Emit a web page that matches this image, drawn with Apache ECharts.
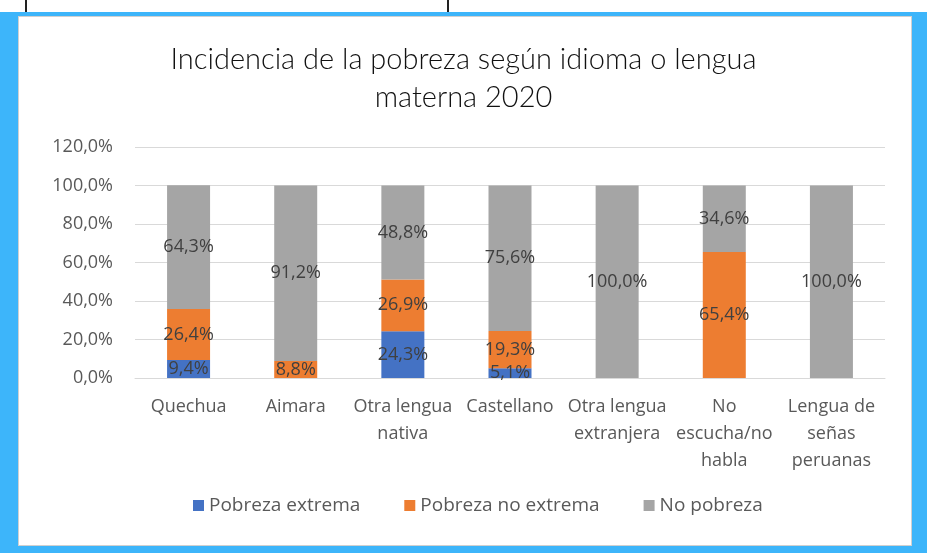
<!DOCTYPE html>
<html>
<head>
<meta charset="utf-8">
<script src="https://cdn.jsdelivr.net/npm/echarts@6/dist/echarts.min.js"></script>
<style>
  html, body { margin: 0; padding: 0; }
  body { width: 927px; height: 553px; position: relative; background: #3db5fa; overflow: hidden; }
  #top { position: absolute; left: 0; top: 0; width: 927px; height: 12px; background: #fff; }
  .tick { position: absolute; top: 0; width: 2px; height: 12px; background: #222; }
  #frame { position: absolute; left: 18px; top: 16px; width: 894px; height: 530px; background: #fff; border: 1px solid #d0d0d0; box-sizing: border-box; }
  #main { position: absolute; left: 0; top: 0; width: 927px; height: 553px; }
</style>
</head>
<body>
<div id="top"><div class="tick" style="left:25px"></div><div class="tick" style="left:447px"></div></div>
<div id="frame"></div>
<div id="main"></div>
<script>
const categories = ['Quechua', 'Aimara', 'Otra lengua\nnativa', 'Castellano', 'Otra lengua\nextranjera', 'No\nescucha/no\nhabla', 'Lengua de\nseñas\nperuanas'];
const pobrezaExtrema = [9.4, 0, 24.3, 5.1, 0, 0, 0];
const pobrezaNoExtrema = [26.4, 8.8, 26.9, 19.3, 0, 65.4, 0];
const noPobreza = [64.3, 91.2, 48.8, 75.6, 100, 34.6, 100];

const chart = echarts.init(document.getElementById('main'));

const pct = v => v.toFixed(1).replace('.', ',') + '%';

function makeSeries(name, data, color) {
  return {
    name,
    type: 'bar',
    stack: 'total',
    barWidth: 43,
    itemStyle: { color },
    label: {
      show: true,
      position: 'inside',
      color: '#404040',
      fontSize: 18,
      fontFamily: 'Open Sans',
      formatter: p => (p.value > 0 ? pct(p.value) : ''),
    },
    data,
  };
}

chart.setOption({
  animation: false,
  title: {
    text: 'Incidencia de la pobreza según idioma o lengua\nmaterna 2020',
    left: 'center',
    top: 36,
    textStyle: { fontFamily: 'Lato', fontWeight: 300, fontSize: 29, color: '#111', lineHeight: 38 },
  },
  legend: {
    bottom: 33,
    left: 188,
    icon: 'rect',
    itemWidth: 11,
    itemHeight: 11,
    itemGap: 44,
    textStyle: { color: '#595959', fontSize: 19, fontFamily: 'Open Sans' },
    data: ['Pobreza extrema', 'Pobreza no extrema', 'No pobreza'],
  },
  grid: { left: 135, right: 42, top: 147, bottom: 175 },
  xAxis: {
    type: 'category',
    data: categories,
    axisTick: { show: false },
    axisLine: { lineStyle: { color: '#d9d9d9' } },
    axisLabel: { color: '#595959', fontSize: 18, fontFamily: 'Open Sans', lineHeight: 27, margin: 15, interval: 0 },
  },
  yAxis: {
    type: 'value',
    min: 0,
    max: 120,
    interval: 20,
    axisLine: { show: false },
    axisTick: { show: false },
    splitLine: { lineStyle: { color: '#d9d9d9' } },
    axisLabel: { color: '#595959', fontSize: 18, fontFamily: 'Open Sans', margin: 22, formatter: v => pct(v) },
  },
  series: [
    makeSeries('Pobreza extrema', pobrezaExtrema, '#4472c4'),
    makeSeries('Pobreza no extrema', pobrezaNoExtrema, '#ed7d31'),
    makeSeries('No pobreza', noPobreza, '#a5a5a5'),
  ],
});
</script>
</body>
</html>
